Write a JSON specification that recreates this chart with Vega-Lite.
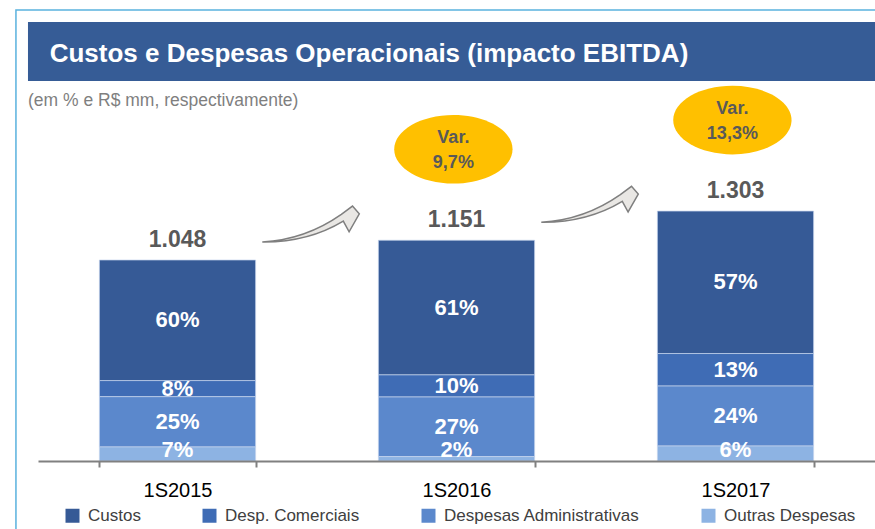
{
  "$schema": "https://vega.github.io/schema/vega-lite/v6.json",
  "width": 837,
  "height": 351,
  "autosize": {"type": "none"},
  "padding": {"left": 38, "top": 110, "right": 0, "bottom": 68},
  "background": "white",
  "config": {
    "view": {"stroke": null},
    "font": "Liberation Sans, Arial, sans-serif",
    "text": {"font": "Liberation Sans, Arial, sans-serif", "lineBreak": "\n"}
  },
  "title": {
    "text": "\u200b\u00a0\u00a0\u00a0Custos e Despesas Operacionais (impacto EBITDA)",
    "subtitle": "(em % e R$ mm, respectivamente)",
    "anchor": "start",
    "frame": "group",
    "orient": "top",
    "dx": -10,
    "offset": -100,
    "font": "Liberation Sans, Arial, sans-serif",
    "fontSize": 26,
    "fontWeight": "bold",
    "color": "#ffffff",
    "subtitleFont": "Liberation Sans, Arial, sans-serif",
    "subtitleFontSize": 17.5,
    "subtitleColor": "#7f7f7f",
    "subtitlePadding": 25,
    "zindex": 1
  },
  "datasets": {
    "segments": [
      {"period": "1S2015", "cat": "Custos", "ord": 4, "value": 628.8, "pct": "60%"},
      {"period": "1S2015", "cat": "Desp. Comerciais", "ord": 3, "value": 83.84, "pct": "8%"},
      {"period": "1S2015", "cat": "Despesas Administrativas", "ord": 2, "value": 262.0, "pct": "25%"},
      {"period": "1S2015", "cat": "Outras Despesas", "ord": 1, "value": 73.36, "pct": "7%"},
      {"period": "1S2016", "cat": "Custos", "ord": 4, "value": 702.11, "pct": "61%"},
      {"period": "1S2016", "cat": "Desp. Comerciais", "ord": 3, "value": 115.1, "pct": "10%"},
      {"period": "1S2016", "cat": "Despesas Administrativas", "ord": 2, "value": 310.77, "pct": "27%"},
      {"period": "1S2016", "cat": "Outras Despesas", "ord": 1, "value": 23.02, "pct": "2%"},
      {"period": "1S2017", "cat": "Custos", "ord": 4, "value": 742.71, "pct": "57%"},
      {"period": "1S2017", "cat": "Desp. Comerciais", "ord": 3, "value": 169.39, "pct": "13%"},
      {"period": "1S2017", "cat": "Despesas Administrativas", "ord": 2, "value": 312.72, "pct": "24%"},
      {"period": "1S2017", "cat": "Outras Despesas", "ord": 1, "value": 78.18, "pct": "6%"}
    ],
    "totals": [
      {"period": "1S2015", "total": 1048, "label": "1.048", "var": null},
      {"period": "1S2016", "total": 1151, "label": "1.151", "var": "Var.\n9,7%"},
      {"period": "1S2017", "total": 1303, "label": "1.303", "var": "Var.\n13,3%"}
    ],
    "frame": [{"item": "slide"}]
  },
  "encoding": {
    "x": {
      "field": "period",
      "type": "nominal",
      "sort": ["1S2015", "1S2016", "1S2017"],
      "scale": {"paddingInner": 0.44, "paddingOuter": 0.22},
      "axis": {
        "title": null,
        "orient": "bottom",
        "labelAngle": 0,
        "domainColor": "#808080",
        "domainWidth": 2,
        "tickColor": "#808080",
        "tickWidth": 2,
        "tickSize": 6,
        "tickBand": "extent",
        "labelFont": "Liberation Sans, Arial, sans-serif",
        "labelFontSize": 20,
        "labelColor": "#000000",
        "labelPadding": 13,
        "zindex": 1
      }
    }
  },
  "layer": [
    {
      "data": {"name": "frame"},
      "mark": {"type": "rect", "fill": null, "fillOpacity": 0, "stroke": "#5ab2de", "strokeWidth": 1.5},
      "encoding": {
        "x": {"datum": "1S2015", "bandPosition": -0.534},
        "x2": {"datum": "1S2017", "bandPosition": 1.45},
        "y": {"datum": 2351, "type": "quantitative", "scale": {"domain": [0, 1830], "nice": false, "zero": true}, "axis": null},
        "y2": {"datum": -400}
      }
    },
    {
      "data": {"name": "frame"},
      "mark": {"type": "rect", "fill": "#365c96"},
      "encoding": {
        "x": {"datum": "1S2015", "bandPosition": -0.457},
        "x2": {"datum": "1S2017", "bandPosition": 1.45},
        "y": {"datum": 2289, "type": "quantitative"},
        "y2": {"datum": 1981}
      }
    },
    {
      "data": {"name": "segments"},
      "transform": [
        {"stack": "value", "groupby": ["period"], "sort": [{"field": "ord", "order": "ascending"}], "as": ["v0", "v1"]},
        {"calculate": "max((datum.v0 + datum.v1) / 2, 55)", "as": "vmid"}
      ],
      "layer": [
        {
          "mark": {"type": "bar", "stroke": "#c6d4ec", "strokeWidth": 0.7},
          "encoding": {
            "y": {"field": "v0", "type": "quantitative"},
            "y2": {"field": "v1"},
            "color": {
              "field": "cat",
              "type": "nominal",
              "scale": {
                "domain": ["Custos", "Desp. Comerciais", "Despesas Administrativas", "Outras Despesas"],
                "range": ["#365a96", "#3f6cb5", "#5b88cc", "#8db3e3"]
              },
              "legend": {
                "title": null,
                "orient": "none",
                "legendX": 26,
                "legendY": 397,
                "direction": "horizontal",
                "symbolType": "square",
                "symbolSize": 196,
                "symbolStrokeWidth": 0,
                "symbolOpacity": 1,
                "labelFont": "Liberation Sans, Arial, sans-serif",
                "labelFontSize": 17,
                "labelColor": "#404040",
                "labelOffset": 7,
                "columnPadding": 60,
                "padding": 0,
                "labelLimit": 400
              }
            }
          }
        },
        {
          "mark": {"type": "text", "color": "#ffffff", "fontSize": 22, "fontWeight": "bold", "baseline": "middle", "align": "center"},
          "encoding": {
            "y": {"field": "vmid", "type": "quantitative"},
            "text": {"field": "pct"}
          }
        }
      ]
    },
    {
      "data": {"name": "totals"},
      "layer": [
        {
          "mark": {"type": "text", "color": "#595959", "fontSize": 23, "fontWeight": "bold", "baseline": "middle", "align": "center", "dy": -20},
          "encoding": {
            "y": {"field": "total", "type": "quantitative"},
            "text": {"field": "label"}
          }
        },
        {
          "transform": [{"filter": "datum.period != '1S2017'"}],
          "mark": {
            "type": "point",
            "shape": "M -0.99 0.37 Q -0.1 0.32 0.64 -0.2 L 0.87 -0.37 L 1.01 -0.21 L 0.8 0.16 L 0.68 -0.06 Q -0.05 0.38 -0.99 0.37 Z",
            "filled": true,
            "fill": "#e9e7e4",
            "stroke": "#7f7f7f",
            "strokeWidth": 1.5,
            "opacity": 1,
            "size": 9409,
            "yOffset": -36
          },
          "encoding": {
            "x": {"field": "period", "type": "nominal", "bandPosition": 1.35},
            "y": {"field": "total", "type": "quantitative"}
          }
        },
        {
          "transform": [{"filter": "datum.var != null"}],
          "mark": {
            "type": "point",
            "shape": "M -1 0 C -1 -0.32 -0.5523 -0.58 0 -0.58 C 0.5523 -0.58 1 -0.32 1 0 C 1 0.32 0.5523 0.58 0 0.58 C -0.5523 0.58 -1 0.32 -1 0 Z",
            "filled": true,
            "fill": "#ffc000",
            "strokeWidth": 0,
            "opacity": 1,
            "size": 14000,
            "yOffset": -91
          },
          "encoding": {
            "x": {"field": "period", "type": "nominal", "bandPosition": 0.48},
            "y": {"field": "total", "type": "quantitative"}
          }
        },
        {
          "transform": [{"filter": "datum.var != null"}],
          "mark": {"type": "text", "color": "#595959", "fontSize": 18, "fontWeight": "bold", "baseline": "middle", "align": "center", "dy": -102, "lineHeight": 25},
          "encoding": {
            "x": {"field": "period", "type": "nominal", "bandPosition": 0.48},
            "y": {"field": "total", "type": "quantitative"},
            "text": {"field": "var"}
          }
        }
      ]
    }
  ]
}
